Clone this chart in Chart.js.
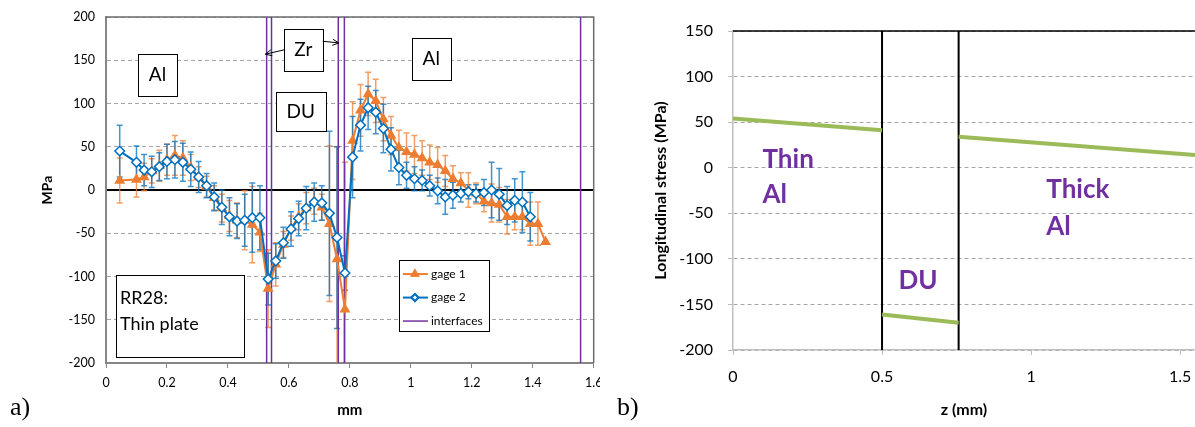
<!DOCTYPE html>
<html>
<head>
<meta charset="utf-8">
<script src="https://cdn.jsdelivr.net/npm/chart.js@4.4.0/dist/chart.umd.min.js"></script>
<style>
  html, body { margin: 0; padding: 0; background: #fff; }
  body { width: 1195px; height: 427px; position: relative; overflow: hidden; }
  #wrapA { position: absolute; left: 0; top: 0; width: 600px; height: 427px; }
  #wrapB { position: absolute; left: 615px; top: 0; width: 580px; height: 427px; }
  .panel { position: absolute; font-family: "Liberation Serif", "DejaVu Serif", serif; font-size: 26px; color: #000; }
</style>
</head>
<body>
<div id="wrapA"><canvas id="chartA"></canvas></div>
<div id="wrapB"><canvas id="chartB"></canvas></div>
<div class="panel" style="left:10px; top:392px;">a)</div>
<div class="panel" style="left:617px; top:392px;">b)</div>

<script>
// ========== DONNÉES (a) ==========
const depth = [0.045, 0.100, 0.125, 0.150, 0.175, 0.200, 0.226, 0.252, 0.278, 0.304, 0.330, 0.355, 0.380, 0.405, 0.430, 0.455, 0.480, 0.505,
  0.532, 0.557, 0.582, 0.607, 0.632, 0.657, 0.683, 0.708, 0.733, 0.758, 0.784,
  0.809, 0.835, 0.860, 0.885, 0.910, 0.935, 0.961, 0.986, 1.012, 1.037, 1.062, 1.088, 1.113, 1.138, 1.164, 1.189, 1.214, 1.240, 1.265,
  1.290, 1.316, 1.341, 1.366, 1.392, 1.417, 1.442];

const gage1 = [11, 12, 15, 22, 28, 35, 40, 37, 26, 15, 4, -9, -21, -30, -35, -35, -40, -49,
  -114, -86, -63, -44, -31, -21, -13, -20, -39, -80, -138,
  57, 92, 111, 103, 82, 63, 49, 44, 41, 37, 32, 29, 22, 13, 8, 0, -4, -13, -15, -17, -31, -31, -31, -39, -39, -60];
const gage1Err = [26, 20, 16, 14, 18, 18, 23, 20, 15, 12, 12, 14, 16, 18, 20, 34, 44, 22,
  45, 25, 15, 14, 15, 18, 15, 15, 90, 130, 170,
  45, 30, 25, 25, 25, 22, 20, 22, 22, 20, 20, 20, 18, 15, 12, 20, 12, 12, 22, 20, 20, 15, 15, 25, 25, 0];

const gage2 = [45, 32, 23, 21, 27, 33, 35, 32, 24, 15, 5, -8, -20, -31, -36, -35, -32, -32,
  -103, -82, -61, -45, -33, -21, -14, -15, -27, -55, -96,
  38, 75, 95, 90, 71, 47, 26, 17, 13, 11, 5, -1, -8, -6, -4, -2, -4, -3, 0, -5, -18, -12, -14, -31, null, null];
const gage2Err = [30, 19, 18, 18, 16, 20, 21, 22, 20, 18, 14, 16, 20, 22, 20, 30, 40, 37,
  30, 20, 18, 20, 20, 25, 22, 20, 95, 105, 20,
  47, 30, 25, 25, 28, 25, 20, 15, 14, 12, 12, 15, 20, 15, 10, 8, 10, 15, 32, 30, 22, 25, 35, 28, null, null];

const interfaces = [0.527, 0.543, 0.762, 0.782, 1.557];
const mmTicks = [0, 0.2, 0.4, 0.6, 0.8, 1, 1.2, 1.4, 1.6];

// ========== DONNÉES (b) ==========
const zThin = [0, 0.5];
const sThin = [54, 41];
const zDU = [0.5, 0.757];
const sDU = [-161, -170];
const zThick = [0.757, 1.55];
const sThick = [34, 14];
const layerBounds = [0.5, 0.757];
const zTicks = [0, 0.5, 1, 1.5];

// ========== UTILITAIRES ==========
const FONT = "Lato, 'Open Sans', sans-serif";
const ORANGE = "#ED7D31";
const BLUE = "#0070C0";
const PURPLE = "#7030A0";
const GREEN = "#9BBB59";

const toPts = (xs, ys) => xs.map((x, i) => ({ x, y: ys[i] }));
const vLine = (v, lo, hi) => [{ x: v, y: lo }, { x: v, y: hi }];
const fixTicks = (list) => (s) => { s.ticks = list.map((value) => ({ value })); };

const errorBars = {
  id: "errorBars",
  beforeDatasetsDraw(chart) {
    const { ctx, chartArea, scales: { x, y } } = chart;
    ctx.save();
    ctx.beginPath();
    ctx.rect(chartArea.left, chartArea.top, chartArea.width, chartArea.height);
    ctx.clip();
    chart.data.datasets.forEach((ds) => {
      if (!ds.errors) return;
      ctx.strokeStyle = ds.errorColor;
      ctx.lineWidth = 1.5;
      ds.data.forEach((p, i) => {
        const e = ds.errors[i];
        if (p.y == null || !e) return;
        const px = x.getPixelForValue(p.x);
        const top = y.getPixelForValue(p.y + e);
        const bot = y.getPixelForValue(p.y - e);
        ctx.beginPath();
        ctx.moveTo(px, top); ctx.lineTo(px, bot);
        ctx.moveTo(px - 3, top); ctx.lineTo(px + 3, top);
        ctx.moveTo(px - 3, bot); ctx.lineTo(px + 3, bot);
        ctx.stroke();
      });
    });
    ctx.restore();
  },
};

// cadre autour de la zone (a)
const frameA = {
  id: "frameA",
  beforeDatasetsDraw(chart) {
    const { ctx, chartArea: a } = chart;
    ctx.save();
    ctx.strokeStyle = "#6d6d6d";
    ctx.lineWidth = 1.5;
    ctx.beginPath();
    ctx.moveTo(a.left, a.top); ctx.lineTo(a.right, a.top); ctx.lineTo(a.right, a.bottom);
    ctx.stroke();
    ctx.restore();
  },
};

// boîtes de texte (a), en coordonnées des axes
const boxesA = [
  { x0: 0.105, x1: 0.233, y0: 109, y1: 157, lines: ["Al"], size: 19, align: "center" },
  { x0: 0.584, x1: 0.711, y0: 138, y1: 186, lines: ["Zr"], size: 19, align: "center" },
  { x0: 0.557, x1: 0.721, y0: 68, y1: 113, lines: ["DU"], size: 19, align: "center" },
  { x0: 1.003, x1: 1.131, y0: 128, y1: 176, lines: ["Al"], size: 19, align: "center" },
  { x0: 0.033, x1: 0.452, y0: -193, y1: -98, lines: ["RR28:", "Thin plate"], size: 18, align: "left" },
];
const arrowsA = [
  { from: [0.584, 162], to: [0.523, 157] },
  { from: [0.711, 172], to: [0.764, 170] },
];

const notesA = {
  id: "notesA",
  afterDatasetsDraw(chart) {
    const { ctx, scales: { x, y } } = chart;
    ctx.save();
    boxesA.forEach((b) => {
      const l = x.getPixelForValue(b.x0), r = x.getPixelForValue(b.x1);
      const t = y.getPixelForValue(b.y1), bt = y.getPixelForValue(b.y0);
      ctx.fillStyle = "#fff";
      ctx.fillRect(l, t, r - l, bt - t);
      ctx.strokeStyle = "#000";
      ctx.lineWidth = 1;
      ctx.strokeRect(Math.round(l) + 0.5, Math.round(t) + 0.5, Math.round(r - l), Math.round(bt - t));
      ctx.fillStyle = "#000";
      ctx.font = `${b.size}px ${FONT}`;
      ctx.textBaseline = "middle";
      if (b.align === "center") {
        ctx.textAlign = "center";
        ctx.fillText(b.lines[0], (l + r) / 2, (t + bt) / 2);
      } else {
        ctx.textAlign = "left";
        b.lines.forEach((s, i) => ctx.fillText(s, l + 4, t + 23 + i * 26));
      }
    });
    // flèches Zr
    ctx.strokeStyle = "#000";
    ctx.lineWidth = 1;
    arrowsA.forEach((a) => {
      const x1 = x.getPixelForValue(a.from[0]), y1 = y.getPixelForValue(a.from[1]);
      const x2 = x.getPixelForValue(a.to[0]), y2 = y.getPixelForValue(a.to[1]);
      const ang = Math.atan2(y2 - y1, x2 - x1);
      ctx.beginPath();
      ctx.moveTo(x1, y1); ctx.lineTo(x2, y2);
      ctx.moveTo(x2 - 7 * Math.cos(ang - 0.45), y2 - 7 * Math.sin(ang - 0.45));
      ctx.lineTo(x2, y2);
      ctx.lineTo(x2 - 7 * Math.cos(ang + 0.45), y2 - 7 * Math.sin(ang + 0.45));
      ctx.stroke();
    });
    // légende
    const lx = x.getPixelForValue(0.961), rx = x.getPixelForValue(1.256);
    const ty = y.getPixelForValue(-81), by = y.getPixelForValue(-163);
    ctx.fillStyle = "#fff";
    ctx.fillRect(lx, ty, rx - lx, by - ty);
    ctx.strokeRect(Math.round(lx) + 0.5, Math.round(ty) + 0.5, Math.round(rx - lx), Math.round(by - ty));
    const items = [
      { text: "gage 1", color: ORANGE, style: "triangle" },
      { text: "gage 2", color: BLUE, style: "rectRot" },
      { text: "interfaces", color: PURPLE, style: null },
    ];
    ctx.font = `12px ${FONT}`;
    ctx.textAlign = "left";
    ctx.textBaseline = "middle";
    items.forEach((it, i) => {
      const yy = ty + 14 + i * 23.5;
      ctx.strokeStyle = it.color;
      ctx.lineWidth = it.style ? 2 : 1.5;
      ctx.beginPath();
      ctx.moveTo(lx + 4, yy); ctx.lineTo(lx + 29, yy);
      ctx.stroke();
      if (it.style) {
        Chart.helpers.drawPoint(ctx, {
          pointStyle: it.style, radius: 3.5, borderWidth: 1.5,
        }, lx + 16, yy);
        ctx.fillStyle = it.style === "triangle" ? it.color : "#fff";
        ctx.fill();
        ctx.stroke();
      }
      ctx.fillStyle = "#000";
      ctx.fillText(it.text, lx + 32, yy);
    });
    ctx.restore();
  },
};

// ========== GRAPHIQUE (a) ==========
new Chart(document.getElementById("chartA"), {
  type: "scatter",
  data: {
    datasets: [
      ...interfaces.map((v) => ({
        label: "interfaces",
        data: vLine(v, -200, 200),
        showLine: true,
        borderColor: PURPLE,
        borderWidth: 1.5,
        pointRadius: 0,
        order: 3,
      })),
      {
        label: "gage 1",
        data: toPts(depth, gage1),
        errors: gage1Err,
        errorColor: "rgba(237,125,49,0.75)",
        showLine: true,
        borderColor: ORANGE,
        backgroundColor: ORANGE,
        borderWidth: 2,
        pointStyle: "triangle",
        pointRadius: 4.8,
        pointBorderWidth: 1.5,
        order: 2,
      },
      {
        label: "gage 2",
        data: toPts(depth, gage2),
        errors: gage2Err,
        errorColor: "rgba(0,112,192,0.75)",
        showLine: true,
        borderColor: BLUE,
        backgroundColor: "#fff",
        borderWidth: 2,
        pointStyle: "rectRot",
        pointRadius: 4.8,
        pointBorderWidth: 1.5,
        order: 1,
      },
    ],
  },
  options: {
    responsive: true,
    maintainAspectRatio: false,
    animation: false,
    events: [],
    layout: { padding: { top: 17, right: 5, left: 0, bottom: 0 } },
    plugins: { legend: { display: false }, tooltip: { enabled: false } },
    scales: {
      x: {
        type: "linear",
        min: 0,
        max: 1.6,
        afterBuildTicks: fixTicks(mmTicks),
        ticks: {
          padding: 7, color: "#000", maxRotation: 0, autoSkip: false,
          font: { family: FONT, size: 12.5 },
          callback: (v) => String(Math.round(v * 10) / 10),
        },
        grid: { drawOnChartArea: false, drawTicks: true, tickLength: 5, color: "#868686" },
        border: { color: "#868686", width: 2 },
        title: { display: true, text: "mm", color: "#000", font: { family: FONT, size: 15, weight: "bold" }, padding: { bottom: 8 } },
        afterFit: (s) => { s.height = 64; s.paddingLeft = 0; s.paddingRight = 0; },
      },
      y: {
        min: -200,
        max: 200,
        ticks: { stepSize: 50, padding: 11, color: "#000", font: { family: FONT, size: 12.5 } },
        grid: {
          drawTicks: false,
          color: (c) => (c.tick && c.tick.value === 0 ? "#000" : "#a6a6a6"),
          lineWidth: (c) => (c.tick && c.tick.value === 0 ? 2 : 1),
        },
        border: { color: "#868686", width: 2, dash: (c) => (c.tick && c.tick.value === 0 ? [] : [4, 3]) },
        title: { display: true, text: "MPa", color: "#000", font: { family: FONT, size: 14, weight: "bold" }, padding: { top: 39 } },
        afterFit: (s) => { s.width = 106; s.paddingTop = 0; s.paddingBottom = 0; },
      },
    },
  },
  plugins: [frameA, errorBars, notesA],
});

// ========== GRAPHIQUE (b) ==========
const labelsB = [
  { text: "Thin", x: 0.099, y: 9 },
  { text: "Al", x: 0.099, y: -30 },
  { text: "DU", x: 0.555, y: -124 },
  { text: "Thick", x: 1.051, y: -24.5 },
  { text: "Al", x: 1.051, y: -64.5 },
];

const notesB = {
  id: "notesB",
  beforeDatasetsDraw(chart) {
    const { ctx, chartArea: a } = chart;
    ctx.save();
    ctx.strokeStyle = "#000";
    ctx.lineWidth = 1.5;
    ctx.beginPath();
    ctx.moveTo(a.left, a.top); ctx.lineTo(a.right, a.top);
    ctx.stroke();
    ctx.restore();
  },
  afterDatasetsDraw(chart) {
    const { ctx, scales: { x, y } } = chart;
    ctx.save();
    ctx.fillStyle = PURPLE;
    ctx.font = `bold 26px ${FONT}`;
    ctx.textAlign = "left";
    ctx.textBaseline = "middle";
    labelsB.forEach((l) => ctx.fillText(l.text, x.getPixelForValue(l.x), y.getPixelForValue(l.y)));
    ctx.restore();
  },
};

const greenLine = (xs, ys) => ({
  data: toPts(xs, ys),
  showLine: true,
  borderColor: GREEN,
  borderWidth: 4,
  pointRadius: 0,
  order: 1,
});

new Chart(document.getElementById("chartB"), {
  type: "scatter",
  data: {
    datasets: [
      greenLine(zThin, sThin),
      greenLine(zDU, sDU),
      greenLine(zThick, sThick),
      ...layerBounds.map((v) => ({
        data: vLine(v, -200, 150),
        showLine: true,
        borderColor: "#000",
        borderWidth: 2,
        pointRadius: 0,
        order: 2,
      })),
    ],
  },
  options: {
    responsive: true,
    maintainAspectRatio: false,
    animation: false,
    events: [],
    layout: { padding: { top: 31, right: 0, left: 0, bottom: 0 } },
    plugins: { legend: { display: false }, tooltip: { enabled: false } },
    scales: {
      x: {
        type: "linear",
        min: 0,
        max: 1.55,
        afterBuildTicks: fixTicks(zTicks),
        ticks: {
          padding: 12, color: "#000", maxRotation: 0, autoSkip: false,
          font: { family: FONT, size: 16 },
          callback: (v) => String(Math.round(v * 10) / 10),
        },
        grid: { drawOnChartArea: false, drawTicks: true, tickLength: 5, color: "#bfbfbf" },
        border: { color: "#bfbfbf", width: 1.5 },
        title: { display: true, text: "z (mm)", color: "#000", font: { family: FONT, size: 16, weight: "bold" }, padding: { bottom: 8 } },
        afterFit: (s) => { s.height = 77; s.paddingLeft = 0; s.paddingRight = 0; },
      },
      y: {
        min: -200,
        max: 150,
        ticks: { stepSize: 50, padding: 15, color: "#000", font: { family: FONT, size: 16 } },
        grid: { drawTicks: true, tickLength: 5, color: "#a6a6a6", tickColor: "#bfbfbf" },
        border: { color: "#bfbfbf", width: 1.5, dash: [4, 3] },
        title: { display: true, text: "Longitudinal stress (MPa)", color: "#000", font: { family: FONT, size: 16, weight: "bold" }, padding: { top: 36 } },
        afterFit: (s) => { s.width = 118; s.paddingTop = 0; s.paddingBottom = 0; },
      },
    },
  },
  plugins: [notesB],
});
</script>
</body>
</html>
